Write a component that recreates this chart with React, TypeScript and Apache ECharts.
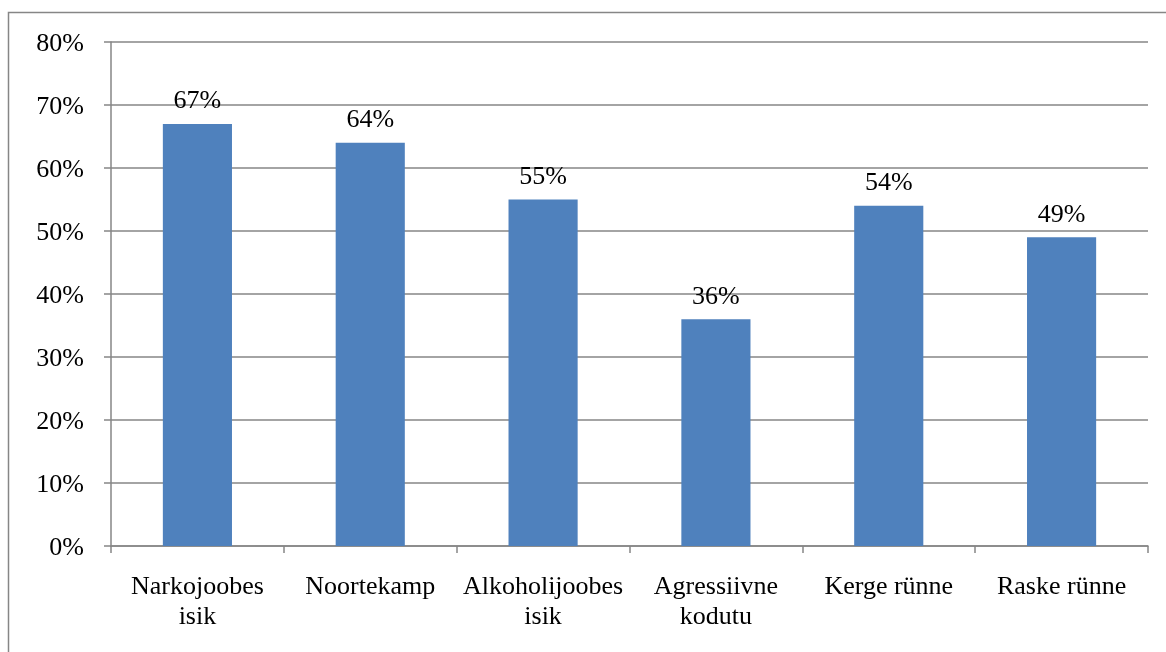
import React, { useEffect, useRef } from "react";
import * as echarts from "echarts";

const categories = [
  "Narkojoobes\nisik",
  "Noortekamp",
  "Alkoholijoobes\nisik",
  "Agressiivne\nkodutu",
  "Kerge rünne",
  "Raske rünne",
];
const values = [67, 64, 55, 36, 54, 49];
const yMin = 0;
const yMax = 80;
const yInterval = 10;

const FONT = "Liberation Serif";
const GRAY = "#868686";
const FS = 26;

export default function App() {
  const ref = useRef<HTMLDivElement>(null);
  useEffect(() => {
    if (!ref.current) return;
    const chart = echarts.init(ref.current, undefined, { renderer: "svg" });
    chart.setOption({
      animation: false,
      graphic: [
        {
          type: "rect",
          shape: { x: 8.5, y: 12.5, width: 1300, height: 800 },
          style: { fill: "none", stroke: GRAY, lineWidth: 1.5 },
          silent: true,
          z: -10,
        },
      ],
      grid: { left: 111, right: 18, top: 42, bottom: 106 },
      xAxis: {
        type: "category",
        data: categories,
        axisLine: { show: true, lineStyle: { color: GRAY, width: 1.5 } },
        axisTick: { show: true, length: 7, lineStyle: { color: GRAY, width: 1.5 } },
        axisLabel: {
          color: "#000",
          fontFamily: FONT,
          fontSize: FS,
          lineHeight: 30,
          margin: 24,
          interval: 0,
        },
      },
      yAxis: {
        type: "value",
        min: yMin,
        max: yMax,
        interval: yInterval,
        axisLine: { show: true, lineStyle: { color: GRAY, width: 1.5 } },
        axisTick: { show: true, length: 7, lineStyle: { color: GRAY, width: 1.5 } },
        splitLine: { show: true, lineStyle: { color: GRAY, width: 1.5 } },
        axisLabel: {
          color: "#000",
          fontFamily: FONT,
          fontSize: FS,
          margin: 27,
          formatter: "{value}%",
        },
      },
      series: [
        {
          type: "bar",
          data: values,
          barWidth: "40%",
          itemStyle: { color: "#4F81BD" },
          label: {
            show: true,
            position: "top",
            distance: 11,
            color: "#000",
            fontFamily: FONT,
            fontSize: FS,
            formatter: "{c}%",
          },
        },
      ],
    });
    return () => chart.dispose();
  }, []);
  return (
    <div
      ref={ref}
      style={{ position: "fixed", left: 0, top: 0, width: 1166, height: 652 }}
    />
  );
}
